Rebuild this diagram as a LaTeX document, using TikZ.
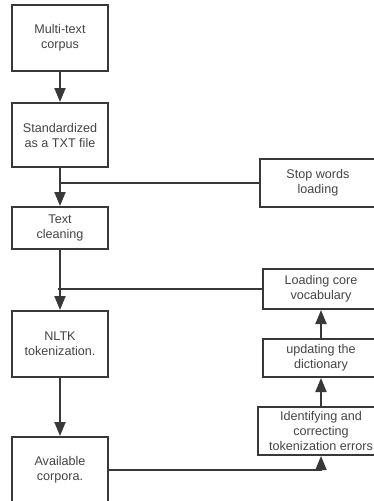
\documentclass[tikz,border=0pt]{standalone}
\usepackage{fontspec}
\setmainfont{Liberation Sans}
\usetikzlibrary{arrows.meta}
\definecolor{linegray}{HTML}{383838}
\definecolor{textgray}{HTML}{444444}
\begin{document}
\begin{tikzpicture}[x=1pt,y=-1pt]
	\tikzset{box/.style = {shape=rectangle,draw=linegray,line width=2pt,align=center,
			inner sep=0pt,text=textgray,font=\fontsize{12.6}{15}\selectfont}}
	\tikzset{edge/.style = {draw=linegray,line width=2pt,-{Triangle[length=14pt,width=11pt]}}}
	\tikzset{line/.style = {draw=linegray,line width=2pt}}
	\useasboundingbox (0,0) rectangle (373,501);
	% vertices
	\node[box,minimum width=96,minimum height=66] (corpus) at (60,38) {Multi-text\\corpus};
	\node[box,minimum width=96,minimum height=64] (std) at (60,135) {Standardized\\as a TXT file};
	\node[box,minimum width=96,minimum height=42] (clean) at (60,228) {Text\\cleaning};
	\node[box,minimum width=96,minimum height=66] (nltk) at (60,344) {NLTK\\tokenization.};
	\node[box,minimum width=96,minimum height=66] (avail) at (60,470) {Available\\corpora.};
	\node[box,minimum width=116,minimum height=48] (stop) at (318,183) {Stop words\\loading};
	\node[box,minimum width=116,minimum height=40] (core) at (321,289) {Loading core\\vocabulary};
	\node[box,minimum width=116,minimum height=38] (update) at (321,358) {updating the\\dictionary};
	\node[box,minimum width=126,minimum height=48] (ident) at (321,431) {Identifying and\\correcting\\tokenization errors};
	\coordinate (j1) at (corpus.south |- stop.west);
	\coordinate (j2) at (corpus.south |- core.west);
	\coordinate (j3) at (ident.south |- avail.east);
	%edges
	\draw[edge] (corpus) to (std);
	\draw[edge] (std) to (clean);
	\draw[edge] (clean) to (nltk);
	\draw[edge] (nltk) to (avail);
	\draw[line] (stop.west) to (j1);
	\draw[line] (core.west) to ([xshift=-2]j2);
	\draw[edge] (avail.east) -- (j3) -- (ident.south);
	\draw[edge] (ident) to (update);
	\draw[edge] (update) to (core);
\end{tikzpicture}
\end{document}
